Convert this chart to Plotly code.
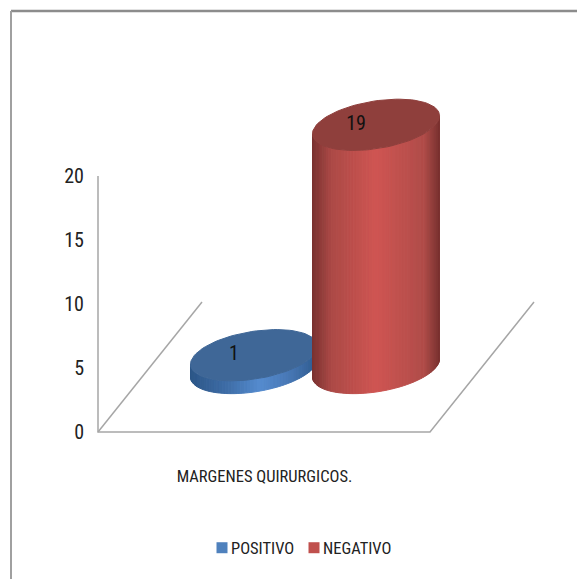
import math
import plotly.graph_objects as go

categories = ["POSITIVO", "NEGATIVO"]
values = [1, 19]
axis_ticks = [0, 5, 10, 15, 20]
axis_title = "MARGENES QUIRURGICOS."

FONT = "Roboto Condensed, Lato, sans-serif"
TEXT = "#222222"
GRID = "#a6a6a6"
W, H = 577, 579
L, T, B = 98, 176, 432           # axis origin and top in page pixels
UNIT = (B - T) / 20              # page pixels per value unit

FRONT_W = 332                    # floor width along the x axis
DEPTH_X = 104                    # floor depth as a horizontal shift
DEPTH_V = 130 / UNIT             # floor depth in value units
BASE_V = 64 / UNIT               # cylinder base centre above the front edge
SLOT = 122                       # distance between cylinders
FIRST_CX = 254
A = 63.5                         # ellipse half width
B_V = 24 / UNIT                  # ellipse half height
S_V = 9 / UNIT                   # ellipse tilt

styles = {
    "POSITIVO": dict(top="#3f6797", side=[(0, "#2c5687"), (0.3, "#3f6ea8"), (0.55, "#558bcf"), (0.8, "#4676b2"), (1, "#2e5a8e")], key="#4f81bd"),
    "NEGATIVO": dict(top="#8f3f3c", side=[(0, "#793230"), (0.15, "#ab4946"), (0.5, "#cf5552"), (0.88, "#b04c49"), (1, "#7a3230")], key="#c0504d"),
}


def hexmix(stops, f):
    for (f0, c0), (f1, c1) in zip(stops, stops[1:]):
        if f <= f1:
            u = (f - f0) / (f1 - f0)
            rgb = [round(int(c0[i:i + 2], 16) * (1 - u) + int(c1[i:i + 2], 16) * u) for i in (1, 3, 5)]
            return "rgb(%d,%d,%d)" % tuple(rgb)
    return stops[-1][1]


def ring(cx, level, t):
    return cx + A * math.cos(t), level + B_V * math.sin(t) + S_V * math.cos(t)


fig = go.Figure()

# floor and vertical axis line, drawn through the axes
fig.add_trace(go.Scatter(x=[L, L, L + FRONT_W, L + FRONT_W + DEPTH_X], y=[axis_ticks[-1], 0, 0, DEPTH_V], mode="lines",
                         line=dict(color=GRID, width=1.5), showlegend=False, hoverinfo="skip"))
fig.add_trace(go.Scatter(x=[L, L + DEPTH_X], y=[0, DEPTH_V], mode="lines", line=dict(color=GRID, width=1.5), showlegend=False, hoverinfo="skip"))

N = 60
for i, (cat, val) in enumerate(zip(categories, values)):
    cx = FIRST_CX + SLOT * i
    st = styles[cat]
    for k in range(N):
        t0 = math.pi + math.pi * k / N
        t1 = math.pi + math.pi * (k + 1) / N
        x0, y0 = ring(cx, BASE_V, t0)
        x1, y1 = ring(cx, BASE_V, t1)
        x2, y2 = ring(cx, BASE_V + val, t1)
        x3, y3 = ring(cx, BASE_V + val, t0)
        col = hexmix(st["side"], ((x0 + x1) / 2 - (cx - A)) / (2 * A))
        fig.add_trace(go.Scatter(x=[x0, x1, x2, x3, x0], y=[y0, y1, y2, y3, y0], mode="lines", fill="toself",
                                 fillcolor=col, line=dict(color=col, width=1), showlegend=False, hoverinfo="skip"))
    pts = [ring(cx, BASE_V + val, 2 * math.pi * k / 90) for k in range(91)]
    fig.add_trace(go.Scatter(x=[p[0] for p in pts], y=[p[1] for p in pts], mode="lines", fill="toself",
                             fillcolor=st["top"], line=dict(color=st["top"], width=1), showlegend=False, hoverinfo="skip"))
    fig.add_trace(go.Scatter(x=[cx - 20], y=[BASE_V + val], mode="text", text=[str(val)], textfont=dict(family=FONT, size=20, color="#111111"),
                             showlegend=False, hoverinfo="skip"))
    fig.add_trace(go.Scatter(x=[None], y=[None], mode="markers", name=cat, marker=dict(symbol="square", size=11, color=st["key"])))

fig.update_layout(
    width=W, height=H, autosize=False,
    margin=dict(l=0, r=0, t=0, b=0, pad=0),
    paper_bgcolor="white", plot_bgcolor="white",
    font=dict(family=FONT, size=16.5, color=TEXT),
    xaxis=dict(range=[0, W], domain=[0, 1], showgrid=False, zeroline=False, showline=False, ticks="", anchor="free", position=(H - B) / H,
               tickmode="array", tickvals=[264.5], ticktext=[axis_title], ticklabelstandoff=32, automargin=False),
    yaxis=dict(range=[-(H - B) / UNIT, B / UNIT], domain=[0, 1], showgrid=False, zeroline=False, showline=False, ticks="", anchor="free", position=L / W,
               tickmode="array", tickvals=axis_ticks, tickfont=dict(size=20), ticklabelstandoff=14, automargin=False),
    legend=dict(orientation="h", x=191 / W, xanchor="left", y=(H - 548) / H, yanchor="middle",
                entrywidth=47, entrywidthmode="pixels", itemwidth=30, bgcolor="rgba(0,0,0,0)"),
    shapes=[
        dict(type="line", xref="paper", yref="paper", x0=11 / W, x1=1, y0=(H - 11) / H, y1=(H - 11) / H, line=dict(color="#8c8c8c", width=2.5)),
        dict(type="line", xref="paper", yref="paper", x0=11 / W, x1=11 / W, y0=(H - 11) / H, y1=0, line=dict(color="#a0a0a0", width=2)),
    ],
)
post = """document.body.style.margin='0';
document.querySelectorAll('.legend .legendpoints').forEach(function(g){g.setAttribute('transform','translate(11,0)');});
document.querySelectorAll('.legend [clip-path]').forEach(function(g){g.removeAttribute('clip-path');});
document.querySelectorAll('.legend').forEach(function(g){g.removeAttribute('clip-path');g.style.clipPath='none';});"""
fig.write_html("out.html", post_script=post, config=dict(displayModeBar=False))
